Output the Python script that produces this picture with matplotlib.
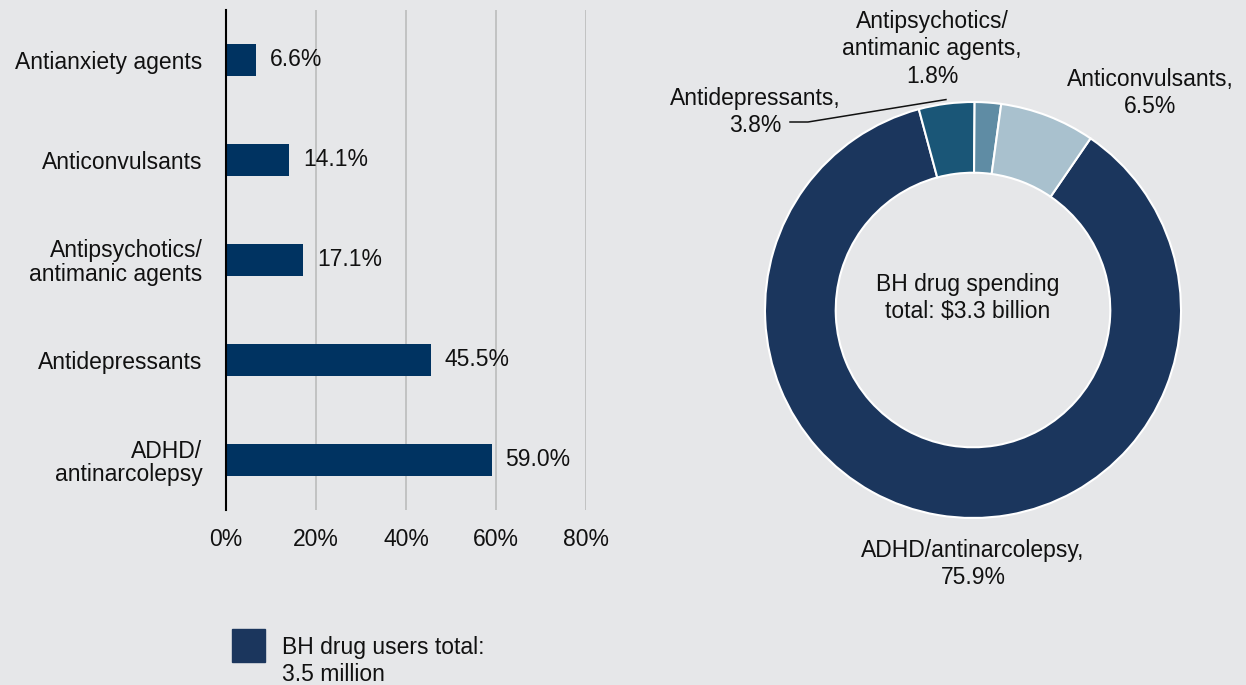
import numpy as np
import matplotlib
matplotlib.use("Agg")
import matplotlib.pyplot as plt
from matplotlib.patches import Rectangle

plt.rcParams['font.family'] = ['Liberation Sans', 'DejaVu Sans']
FS = 16.5
plt.rcParams['font.size'] = FS

# share of BH drug users by class
user_classes = ['ADHD/\nantinarcolepsy', 'Antidepressants', 'Antipsychotics/\nantimanic agents',
                'Anticonvulsants', 'Antianxiety agents']
user_share = [59.0, 45.5, 17.1, 14.1, 6.6]
x_ticks = [0, 20, 40, 60, 80]

# share of BH drug spending by class (clockwise from the ADHD slice)
spend_classes = ['ADHD/antinarcolepsy', 'Antidepressants', 'Antipsychotics/\nantimanic agents',
                 'Anticonvulsants']
spend_share = [75.9, 3.8, 1.8, 6.5]

bg = '#e6e7e9'
bar_color = '#003361'
ring_colors = ['#1b365d', '#1a5677', '#5f8ca4', '#a9c1ce']

W, H = 1246, 685
fig = plt.figure(figsize=(W / 100, H / 100), dpi=100, facecolor=bg)

#==============================================
# bar chart: users
#==============================================
ax = fig.add_axes([226 / W, 1 - 510 / H, 360 / W, 500 / H], facecolor=bg)
ypos = np.arange(len(user_classes))
ax.barh(ypos, user_share, height=0.32, color=bar_color, zorder=3)
for y, v in zip(ypos, user_share):
    ax.annotate(f'{v:.1f}%', (v, y), xytext=(10, 0), textcoords='offset points',
                va='center', ha='left', fontsize=FS, color='#111111', zorder=4)
ax.set_xlim(0, 80)
ax.set_ylim(-0.5, len(user_classes) - 0.5)
ax.set_yticks(ypos)
ax.set_yticklabels(user_classes, linespacing=1.05)
ax.set_xticks(x_ticks)
ax.set_xticklabels([f'{t}%' for t in x_ticks])
ax.tick_params(axis='both', length=0, labelsize=FS, colors='#111111')
ax.tick_params(axis='y', pad=17)
ax.tick_params(axis='x', pad=13)
for t in x_ticks[1:]:
    ax.axvline(t, color='#c2c2c2', lw=1.4, zorder=1)
for s in ['top', 'right', 'bottom']:
    ax.spines[s].set_visible(False)
ax.spines['left'].set_color('black')
ax.spines['left'].set_linewidth(1.5)
ax.spines['left'].set_zorder(5)

# legend box under the bars
fig.add_artist(Rectangle((232 / W, 1 - 662 / H), 33 / W, 33 / H,
                         transform=fig.transFigure, color='#1b365d'))
fig.text(282 / W, 1 - 636 / H, 'BH drug users total:\n3.5 million', ha='left', va='top',
         fontsize=FS, linespacing=1.2, color='#111111')

#==============================================
# donut chart: spending
#==============================================
R = 208
cx, cy = 973, 310
pax = fig.add_axes([(cx - R) / W, 1 - (cy + R) / H, 2 * R / W, 2 * R / H])
pax.set_facecolor('none')
wedges, _ = pax.pie(spend_share, colors=ring_colors, startangle=90 - 34.4, counterclock=False,
                    radius=1, wedgeprops=dict(width=0.34, edgecolor='white', linewidth=1.5))
pax.set_xlim(-1, 1)
pax.set_ylim(-1, 1)
pax.set_aspect('equal')
pax.axis('off')


def px(x, y):
    return (x - cx) / R, (cy - y) / R


label_pos = [px(973, 564), px(755, 112), px(932, 49), px(1150, 93)]
for name, v, pos in zip(spend_classes, spend_share, label_pos):
    pax.text(*pos, f'{name},\n{v:.1f}%', ha='center', va='center', fontsize=FS,
             linespacing=1.25, color='#111111', clip_on=False)

# leader line for the thin antidepressants slice
w = wedges[1]
mid = np.deg2rad((w.theta1 + w.theta2) / 2)
tx, ty = np.cos(mid) * 1.02, np.sin(mid) * 1.02
sx, sy = px(790, 122)
kx, ky = px(808, 122)
pax.plot([sx, kx, tx], [sy, ky, ty], color='#111111', lw=1.1, clip_on=False)

pax.text(*px(968, 298), 'BH drug spending\ntotal: $3.3 billion', ha='center', va='center',
         fontsize=FS, linespacing=1.25, color='#111111')

fig.savefig('out.png', dpi=100, facecolor=bg)
